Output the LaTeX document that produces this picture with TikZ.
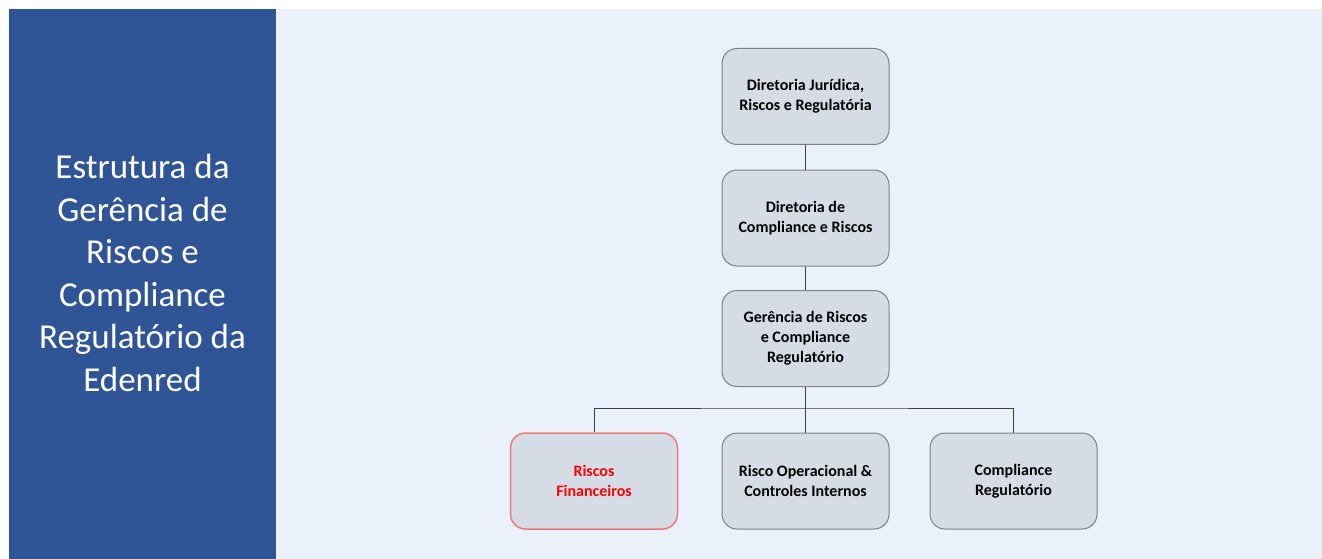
\documentclass[tikz,border=0pt]{standalone}
\usepackage{fontspec}
\setmainfont{Carlito}
\definecolor{panelblue}{HTML}{2F5597}
\definecolor{panellight}{HTML}{EAF1FA}
\definecolor{boxfill}{HTML}{D6DCE5}
\definecolor{boxline}{HTML}{7A8290}
\definecolor{redline}{HTML}{EE7B7B}
\begin{document}
\begin{tikzpicture}[x=1pt,y=-1pt,
  orgbox/.style={draw=boxline,line width=1pt,fill=boxfill,rounded corners=15pt,
    minimum width=167pt,minimum height=96pt,align=center,
    font=\fontsize{16}{20}\selectfont\bfseries,text=black},
  redbox/.style={orgbox,draw=redline,line width=1.5pt,text=red},
  link/.style={draw=black!75,line width=0.8pt}]
\useasboundingbox (0,0) rectangle (1322,559);
\fill[white] (0,0) rectangle (1322,559);
\fill[panelblue] (9,9) rectangle (276,559);
\fill[panellight] (276,9) rectangle (1322,559);
\node[text=white,align=center,font=\fontsize{35}{42.6}\selectfont] (title) at (142.5,273)
  {Estrutura da\\Gerência de\\Riscos e\\Compliance\\Regulatório da\\Edenred};
\node[orgbox] (dj) at (805.5,96.5) {Diretoria Jurídica,\\Riscos e Regulatória};
\node[orgbox] (dc) at (805.5,218) {Diretoria de\\Compliance e Riscos};
\node[orgbox] (ge) at (805.5,338.5) {Gerência de Riscos\\e Compliance\\Regulatório};
\node[redbox] (rf) at (594,481) {Riscos\\Financeiros};
\node[orgbox] (ro) at (805.5,481) {Risco Operacional \&\\Controles Internos};
\node[orgbox] (cr) at (1013.5,481) {Compliance\\Regulatório};
\coordinate (bar) at (805.5,408);
\draw[link] (dj.south) -- (dc.north);
\draw[link] (dc.south) -- (ge.north);
\draw[link] (ge.south) -- (ro.north);
\draw[link] (rf.north) |- (bar) -| (cr.north);
\end{tikzpicture}
\end{document}
